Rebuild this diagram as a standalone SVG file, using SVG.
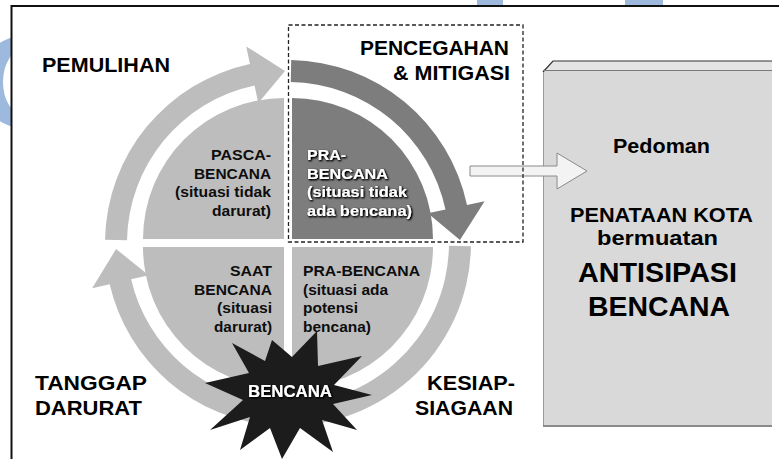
<svg xmlns="http://www.w3.org/2000/svg" width="779" height="459" viewBox="0 0 779 459">
<defs>
<style>
text{font-family:"Liberation Sans",Arial,sans-serif;font-weight:bold;}
.big{font-size:20px;fill:#000;}
.q{font-size:15px;fill:#0d0d0d;}
.qw{font-size:15px;fill:#fff;filter:url(#sh);}
.light{fill:#bdbdbd;}
.dark{fill:#7d7d7d;}
.box{font-size:21px;fill:#000;}
.huge{font-size:28px;fill:#000;}
.wm{fill:#9db9dd;}
</style>
<filter id="sh" x="-20%" y="-40%" width="140%" height="180%">
<feGaussianBlur in="SourceAlpha" stdDeviation="1.1"/>
<feOffset dx="1" dy="1" result="b"/>
<feComponentTransfer><feFuncA type="linear" slope="1.6"/></feComponentTransfer>
<feMerge><feMergeNode/><feMergeNode in="SourceGraphic"/></feMerge>
</filter>
<clipPath id="wmclip"><rect x="0" y="0" width="11" height="459"/></clipPath>
</defs>
<rect width="779" height="459" fill="#fff"/>
<g id="watermark">
<path class="wm" clip-path="url(#wmclip)" fill-rule="evenodd" d="M70,82 A46,46 0 1 0 -22,82 A46,46 0 1 0 70,82 Z M45,82 A21,33 0 1 0 3,82 A21,33 0 1 0 45,82 Z"/>
<rect class="wm" x="477" y="0" width="26" height="5"/>
<rect class="wm" x="625" y="0" width="38" height="5"/>
</g>
<g id="frame" fill="none" stroke="#111" stroke-width="2">
<path d="M11.5,459 V6 H779"/>
</g>
<g id="penataan-box">
<polygon points="543,71 553,61 772,61 772,70 543,70" fill="#e4e4e4"/>
<rect x="543" y="70" width="229" height="356" fill="#d9d9d9"/>
<path d="M543,72 L553,61 H772" fill="none" stroke="#333" stroke-width="1.2"/>
<path d="M543,70.5 H772" fill="none" stroke="#7a7a7a" stroke-width="1"/>
<path d="M543.5,72 V426" fill="none" stroke="#9a9a9a" stroke-width="1"/>
<path d="M543,426 H772" fill="none" stroke="#8a8a8a" stroke-width="2"/>
<text class="box" x="613" y="153" style="font-size:20px" textLength="97" lengthAdjust="spacingAndGlyphs">Pedoman</text>
<text class="box" x="570" y="222" textLength="183" lengthAdjust="spacingAndGlyphs">PENATAAN KOTA</text>
<text class="box" x="597" y="245" textLength="121" lengthAdjust="spacingAndGlyphs">bermuatan</text>
<text class="huge" x="578" y="282" textLength="159" lengthAdjust="spacingAndGlyphs">ANTISIPASI</text>
<text class="huge" x="588" y="316" textLength="142" lengthAdjust="spacingAndGlyphs">BENCANA</text>
</g>
<g id="connectors">
<path id="arrow-pemulihan" class="light" d="M105.03,239.81 A183,183 0 0 1 249.95,64.0 L246.21,46.39 L285.0,71.03 L258.27,103.12 L254.53,85.52 A161,161 0 0 0 127.02,240.19 Z"/>
<path id="arrow-pencegahan" class="dark" d="M291.19,60.03 A183,183 0 0 1 467.0,204.95 L484.61,201.21 L459.97,240.0 L427.88,213.27 L445.48,209.53 A161,161 0 0 0 290.81,82.02 Z"/>
<path id="arrow-kesiapsiagaan" class="light" d="M470.97,246.19 A183,183 0 0 1 268.87,425.0 L271.17,403.12 A161,161 0 0 0 448.98,245.81 Z"/>
<path id="arrow-tanggap" class="light" d="M275.23,425.55 A183,183 0 0 1 109.69,284.17 L92.15,288.21 L116.1,249.0 L148.67,275.17 L131.13,279.22 A161,161 0 0 0 276.77,403.61 Z"/>
<path id="arrow-pedoman" d="M470,166 H557 V153 L587,171 L557,189 V176 H470 Z" fill="#f3f3f3" stroke="#8a8a8a" stroke-width="1"/>
</g>
<g id="q-pasca">
<path class="light" d="M284,239 L143,239 A141,141 0 0 1 284,98 Z"/>
<text class="q" x="211" y="160" textLength="60" lengthAdjust="spacingAndGlyphs">PASCA-</text>
<text class="q" x="194" y="178.5" textLength="77" lengthAdjust="spacingAndGlyphs">BENCANA</text>
<text class="q" x="175" y="197" textLength="96" lengthAdjust="spacingAndGlyphs">(situasi tidak</text>
<text class="q" x="212" y="215.5" textLength="59" lengthAdjust="spacingAndGlyphs">darurat)</text>
</g>
<g id="q-pra">
<path class="dark" d="M292,239 L292,98 A141,141 0 0 1 433,239 Z"/>
<text class="qw" x="307" y="160" textLength="39" lengthAdjust="spacingAndGlyphs">PRA-</text>
<text class="qw" x="307" y="178.5" textLength="81" lengthAdjust="spacingAndGlyphs">BENCANA</text>
<text class="qw" x="307" y="197" textLength="100" lengthAdjust="spacingAndGlyphs">(situasi tidak</text>
<text class="qw" x="307" y="215.5" textLength="105" lengthAdjust="spacingAndGlyphs">ada bencana)</text>
</g>
<g id="q-prapotensi">
<path class="light" d="M292,247 L433,247 A141,141 0 0 1 292,388 Z"/>
<text class="q" x="303" y="276" textLength="117" lengthAdjust="spacingAndGlyphs">PRA-BENCANA</text>
<text class="q" x="303" y="294.5" textLength="85" lengthAdjust="spacingAndGlyphs">(situasi ada</text>
<text class="q" x="303" y="313" textLength="55" lengthAdjust="spacingAndGlyphs">potensi</text>
<text class="q" x="303" y="331.5" textLength="68" lengthAdjust="spacingAndGlyphs">bencana)</text>
</g>
<g id="q-saat">
<path class="light" d="M284,247 L284,388 A141,141 0 0 1 143,247 Z"/>
<text class="q" x="230" y="276" textLength="42" lengthAdjust="spacingAndGlyphs">SAAT</text>
<text class="q" x="194" y="294.5" textLength="78" lengthAdjust="spacingAndGlyphs">BENCANA</text>
<text class="q" x="217" y="313" textLength="55" lengthAdjust="spacingAndGlyphs">(situasi</text>
<text class="q" x="214" y="331.5" textLength="58" lengthAdjust="spacingAndGlyphs">darurat)</text>
</g>
<g id="bencana-star">
<polygon fill="#1c1c1c" points="205,383 249,373 232,343 265,361 272,340 292,357 317,331 318,366 362,356 334,385 372,395 333,404 357,430 322,420 333,452 300,428 282,459 270,428 240,450 250,417 210,430 243,400"/>
<text class="qw" x="248" y="397" style="font-size:16px" textLength="84" lengthAdjust="spacingAndGlyphs">BENCANA</text>
</g>
<g id="pencegahan-box">
<rect x="288.5" y="25" width="234.5" height="217" fill="none" stroke="#222" stroke-width="1.3" stroke-dasharray="4,2.5"/>
<text class="big" x="360" y="55" textLength="149" lengthAdjust="spacingAndGlyphs">PENCEGAHAN</text>
<text class="big" x="393" y="80" textLength="117" lengthAdjust="spacingAndGlyphs">&amp; MITIGASI</text>
</g>
<g id="label-pemulihan">
<text class="big" x="42" y="72" textLength="128" lengthAdjust="spacingAndGlyphs">PEMULIHAN</text>
</g>
<g id="label-tanggap">
<text class="big" x="35" y="390" textLength="112" lengthAdjust="spacingAndGlyphs">TANGGAP</text>
<text class="big" x="35" y="415" textLength="107" lengthAdjust="spacingAndGlyphs">DARURAT</text>
</g>
<g id="label-kesiap">
<text class="big" x="427" y="390" textLength="88" lengthAdjust="spacingAndGlyphs">KESIAP-</text>
<text class="big" x="415" y="415" textLength="98" lengthAdjust="spacingAndGlyphs">SIAGAAN</text>
</g>
</svg>
